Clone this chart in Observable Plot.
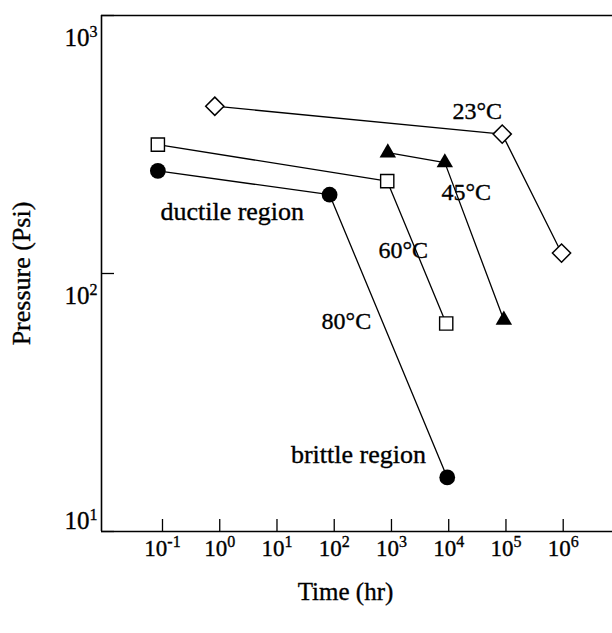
<!DOCTYPE html>
<html><head><meta charset="utf-8">
<script src="https://cdn.jsdelivr.net/npm/d3@7"></script>
<script src="https://cdn.jsdelivr.net/npm/@observablehq/plot@0.6"></script>
<style>body{margin:0;background:#fff}</style>
</head><body><div id="chart"></div>
<script>
// ---- data ----
const series = ["23°C", "45°C", "60°C", "80°C"];
const time23 = [0.82, 86000, 935000];
const pressure23 = [445, 347, 120];
const time45 = [863, 8550, 91800];
const pressure45 = [294, 269, 66];
const time60 = [0.083, 843, 9040];
const pressure60 = [316, 228, 64];
const time80 = [0.083, 83, 9420];
const pressure80 = [250, 202, 16.2];
const xTickExponents = [-1, 0, 1, 2, 3, 4, 5, 6];
const yTickExponents = [1, 2, 3];
const xTitle = "Time (hr)";
const yTitle = "Pressure (Psi)";
// annotation texts with their anchor (time, pressure)
const seriesLabelTime = [11640, 7480, 594, 60];
const seriesLabelPressure = [425, 206, 123, 65];
const regionLabels = ["ductile region", "brittle region"];
const regionLabelTime = [0.092, 4000];
const regionLabelPressure = [173, 19.9];

// ---- build table ----
const times = [time23, time45, time60, time80];
const pressures = [pressure23, pressure45, pressure60, pressure80];
const rows = series.flatMap((s, i) => times[i].map((t, j) => ({series: s, time: t, pressure: pressures[i][j]})));
const xTicks = xTickExponents.map(e => 10 ** e);
const yTicks = yTickExponents.map(e => 10 ** e);

const xDomain = [0.0086, 7.5e6];
const xRange = [101, 612.8];
const yDomain = [10, 1000];
const yRange = [531, 15];
const yPxPerDecade = (yRange[0] - yRange[1]) / Math.log10(yDomain[1] / yDomain[0]);
const xPxPerDecade = (xRange[1] - xRange[0]) / Math.log10(xDomain[1] / xDomain[0]);
const xTickLen = 12, yTickLen = 13;
const xTickTop = yDomain[0] * 10 ** (xTickLen / yPxPerDecade);
const yTickRight = xDomain[0] * 10 ** (yTickLen / xPxPerDecade);
const xTitleTime = 10 ** (Math.log10(xDomain[0]) + (345 - xRange[0]) / xPxPerDecade);

const markerStyle = {
  "23°C": {symbol: "diamond2", r: 8.2, fill: "white", stroke: "black", strokeWidth: 1.5},
  "45°C": {symbol: "triangle", r: 6.1, fill: "black", stroke: "none"},
  "60°C": {symbol: "square2", r: 8.4, fill: "white", stroke: "black", strokeWidth: 1.4},
  "80°C": {symbol: "circle", r: 7.9, fill: "black", stroke: "none"}
};

const font = "'Liberation Serif','Times New Roman',serif";
const ink = {fill: "black", stroke: "black", strokeWidth: 0.35};

const svg = Plot.plot({
  width: 612, height: 633, margin: 0,
  style: {fontFamily: font, background: "white", color: "black"},
  x: {type: "log", domain: xDomain, range: xRange, axis: null},
  y: {type: "log", domain: yDomain, range: yRange, axis: null},
  marks: [
    // frame (left, bottom, top)
    Plot.ruleX([xDomain[0]], {y1: yDomain[0], y2: yDomain[1], stroke: "black", strokeWidth: 1.6}),
    Plot.ruleY([yDomain[0], yDomain[1]], {x1: xDomain[0], x2: xDomain[1], stroke: "black", strokeWidth: 1.6}),
    // inward ticks
    Plot.ruleX(xTicks, {y1: yDomain[0], y2: xTickTop, stroke: "black", strokeWidth: 1.3}),
    Plot.ruleY(yTicks, {x1: xDomain[0], x2: yTickRight, stroke: "black", strokeWidth: 1.3}),
    // tick labels
    Plot.text(xTicks, {x: d => d, y: yDomain[0], text: d => `10^${Math.round(Math.log10(d))}`, dy: 17, fontSize: 23, textAnchor: "middle", ...ink}),
    Plot.text(yTicks.filter(d => d > yDomain[0]), {x: xDomain[0], y: d => d, text: d => `10^${Math.round(Math.log10(d))}`, dx: -4, dy: 22, fontSize: 25, textAnchor: "end", ...ink}),
    Plot.text(yTicks.filter(d => d === yDomain[0]), {x: xDomain[0], y: d => d, text: d => `10^${Math.round(Math.log10(d))}`, dx: -4, dy: -11, fontSize: 25, textAnchor: "end", ...ink}),
    // series lines
    Plot.line(rows, {x: "time", y: "pressure", z: "series", stroke: "black", strokeWidth: 1.3}),
    // markers
    ...series.map(s => Plot.dot(rows.filter(d => d.series === s), {x: "time", y: "pressure", ...markerStyle[s]})),
    // annotations
    Plot.text(series, {x: (d, i) => seriesLabelTime[i], y: (d, i) => seriesLabelPressure[i], text: d => d, fontSize: 24, textAnchor: "start", ...ink}),
    Plot.text(regionLabels.slice(0, 1), {x: regionLabelTime[0], y: regionLabelPressure[0], text: d => d, fontSize: 26, textAnchor: "start", ...ink}),
    Plot.text(regionLabels.slice(1), {x: regionLabelTime[1], y: regionLabelPressure[1], text: d => d, fontSize: 26, textAnchor: "end", ...ink}),
    // axis titles
    Plot.text([xTitle], {frameAnchor: "bottom", x: xTitleTime, text: d => d, fontSize: 25, textAnchor: "middle", dy: -34, ...ink}),
    Plot.text([yTitle], {frameAnchor: "left", y: 10 ** ((Math.log10(yDomain[0]) + Math.log10(yDomain[1])) / 2), text: d => d, fontSize: 26, rotate: -90, textAnchor: "middle", dx: 21, ...ink})
  ]
});

// superscripts for "10^n"
d3.select(svg).selectAll("text").each(function () {
  const s = this.textContent;
  const m = s.match(/^(\d+)\^(-?\d+)$/);
  if (!m) return;
  const el = d3.select(this);
  el.text(null);
  el.append("tspan").text(m[1]);
  el.append("tspan").attr("font-size", 16).attr("dy", -9).text(m[2]);
});

document.getElementById("chart").appendChild(svg);
</script>
</body></html>
